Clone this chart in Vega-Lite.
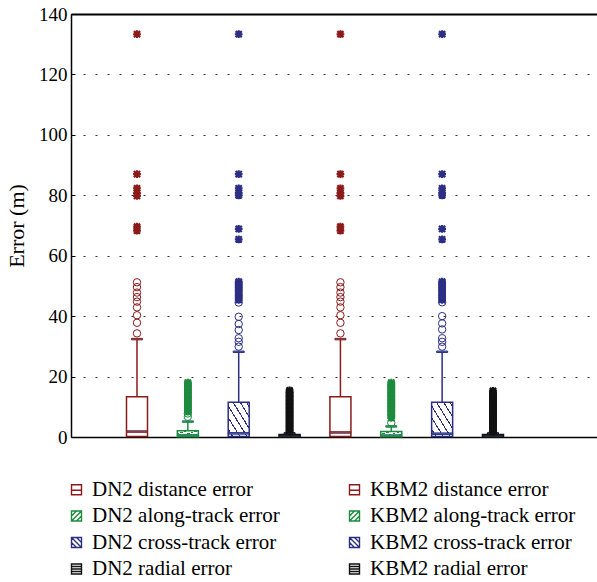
{
  "$schema": "https://vega.github.io/schema/vega-lite/v6.json",
  "width": 526,
  "height": 423,
  "autosize": "none",
  "padding": {"left": 71, "top": 14, "right": 0, "bottom": 145},
  "background": "white",
  "config": {
    "view": {"stroke": null},
    "font": "Liberation Serif",
    "axis": {"labelFont": "Liberation Serif", "titleFont": "Liberation Serif", "domainColor": "black", "domainWidth": 1.5, "domain": true},
    "legend": {"labelFont": "Liberation Serif"}
  },
  "datasets": {
    "box": [
      {"s": "DN2 distance error", "q1": 0.2, "med": 1.8, "q3": 13.3, "hi": 32.4},
      {"s": "DN2 along-track error", "q1": 0.1, "med": 0.6, "q3": 2.1, "hi": 5.1},
      {"s": "DN2 cross-track error", "q1": 0.2, "med": 1.2, "q3": 11.5, "hi": 28.2},
      {"s": "DN2 radial error", "q1": 0.05, "med": 0.3, "q3": 0.8, "hi": 1.2},
      {"s": "KBM2 distance error", "q1": 0.2, "med": 1.5, "q3": 13.3, "hi": 32.4},
      {"s": "KBM2 along-track error", "q1": 0.1, "med": 0.5, "q3": 1.8, "hi": 3.5},
      {"s": "KBM2 cross-track error", "q1": 0.2, "med": 1.1, "q3": 11.5, "hi": 28.2},
      {"s": "KBM2 radial error", "q1": 0.05, "med": 0.3, "q3": 0.8, "hi": 1.2}
    ],
    "out": [
      {"s": "DN2 distance error", "k": "o", "v": 34.3},
      {"s": "DN2 distance error", "k": "o", "v": 37.8},
      {"s": "DN2 distance error", "k": "o", "v": 40.3},
      {"s": "DN2 distance error", "k": "o", "v": 42.9},
      {"s": "DN2 distance error", "k": "o", "v": 44.8},
      {"s": "DN2 distance error", "k": "o", "v": 46.3},
      {"s": "DN2 distance error", "k": "o", "v": 47.8},
      {"s": "DN2 distance error", "k": "o", "v": 49.6},
      {"s": "DN2 distance error", "k": "o", "v": 51.2},
      {"s": "DN2 distance error", "k": "x", "v": 68.3},
      {"s": "DN2 distance error", "k": "x", "v": 69.6},
      {"s": "DN2 distance error", "k": "x", "v": 79.8},
      {"s": "DN2 distance error", "k": "x", "v": 80.7},
      {"s": "DN2 distance error", "k": "x", "v": 82.3},
      {"s": "DN2 distance error", "k": "x", "v": 87.0},
      {"s": "DN2 distance error", "k": "x", "v": 133.3},
      {"s": "KBM2 distance error", "k": "o", "v": 34.3},
      {"s": "KBM2 distance error", "k": "o", "v": 37.8},
      {"s": "KBM2 distance error", "k": "o", "v": 40.3},
      {"s": "KBM2 distance error", "k": "o", "v": 42.9},
      {"s": "KBM2 distance error", "k": "o", "v": 44.8},
      {"s": "KBM2 distance error", "k": "o", "v": 46.3},
      {"s": "KBM2 distance error", "k": "o", "v": 47.8},
      {"s": "KBM2 distance error", "k": "o", "v": 49.6},
      {"s": "KBM2 distance error", "k": "o", "v": 51.2},
      {"s": "KBM2 distance error", "k": "x", "v": 68.3},
      {"s": "KBM2 distance error", "k": "x", "v": 69.6},
      {"s": "KBM2 distance error", "k": "x", "v": 79.8},
      {"s": "KBM2 distance error", "k": "x", "v": 80.7},
      {"s": "KBM2 distance error", "k": "x", "v": 82.3},
      {"s": "KBM2 distance error", "k": "x", "v": 87.0},
      {"s": "KBM2 distance error", "k": "x", "v": 133.3},
      {"s": "DN2 along-track error", "k": "o", "v": 6.7},
      {"s": "DN2 along-track error", "k": "o", "v": 7.8},
      {"s": "DN2 along-track error", "k": "x", "v": 8.4},
      {"s": "DN2 along-track error", "k": "x", "v": 8.9},
      {"s": "DN2 along-track error", "k": "x", "v": 9.3},
      {"s": "DN2 along-track error", "k": "x", "v": 9.8},
      {"s": "DN2 along-track error", "k": "x", "v": 10.2},
      {"s": "DN2 along-track error", "k": "x", "v": 10.7},
      {"s": "DN2 along-track error", "k": "x", "v": 11.1},
      {"s": "DN2 along-track error", "k": "x", "v": 11.5},
      {"s": "DN2 along-track error", "k": "x", "v": 12.0},
      {"s": "DN2 along-track error", "k": "x", "v": 12.4},
      {"s": "DN2 along-track error", "k": "x", "v": 12.9},
      {"s": "DN2 along-track error", "k": "x", "v": 13.3},
      {"s": "DN2 along-track error", "k": "x", "v": 13.7},
      {"s": "DN2 along-track error", "k": "x", "v": 14.2},
      {"s": "DN2 along-track error", "k": "x", "v": 14.6},
      {"s": "DN2 along-track error", "k": "x", "v": 15.0},
      {"s": "DN2 along-track error", "k": "x", "v": 15.5},
      {"s": "DN2 along-track error", "k": "x", "v": 15.9},
      {"s": "DN2 along-track error", "k": "x", "v": 16.4},
      {"s": "DN2 along-track error", "k": "x", "v": 16.8},
      {"s": "DN2 along-track error", "k": "x", "v": 17.2},
      {"s": "DN2 along-track error", "k": "x", "v": 17.7},
      {"s": "DN2 along-track error", "k": "x", "v": 18.0},
      {"s": "KBM2 along-track error", "k": "o", "v": 4.7},
      {"s": "KBM2 along-track error", "k": "x", "v": 6.3},
      {"s": "KBM2 along-track error", "k": "x", "v": 6.8},
      {"s": "KBM2 along-track error", "k": "x", "v": 7.2},
      {"s": "KBM2 along-track error", "k": "x", "v": 7.7},
      {"s": "KBM2 along-track error", "k": "x", "v": 8.2},
      {"s": "KBM2 along-track error", "k": "x", "v": 8.6},
      {"s": "KBM2 along-track error", "k": "x", "v": 9.1},
      {"s": "KBM2 along-track error", "k": "x", "v": 9.5},
      {"s": "KBM2 along-track error", "k": "x", "v": 10.0},
      {"s": "KBM2 along-track error", "k": "x", "v": 10.4},
      {"s": "KBM2 along-track error", "k": "x", "v": 10.9},
      {"s": "KBM2 along-track error", "k": "x", "v": 11.3},
      {"s": "KBM2 along-track error", "k": "x", "v": 11.8},
      {"s": "KBM2 along-track error", "k": "x", "v": 12.2},
      {"s": "KBM2 along-track error", "k": "x", "v": 12.7},
      {"s": "KBM2 along-track error", "k": "x", "v": 13.1},
      {"s": "KBM2 along-track error", "k": "x", "v": 13.6},
      {"s": "KBM2 along-track error", "k": "x", "v": 14.0},
      {"s": "KBM2 along-track error", "k": "x", "v": 14.5},
      {"s": "KBM2 along-track error", "k": "x", "v": 14.9},
      {"s": "KBM2 along-track error", "k": "x", "v": 15.4},
      {"s": "KBM2 along-track error", "k": "x", "v": 15.8},
      {"s": "KBM2 along-track error", "k": "x", "v": 16.3},
      {"s": "KBM2 along-track error", "k": "x", "v": 16.7},
      {"s": "KBM2 along-track error", "k": "x", "v": 17.2},
      {"s": "KBM2 along-track error", "k": "x", "v": 17.6},
      {"s": "KBM2 along-track error", "k": "x", "v": 18.0},
      {"s": "DN2 cross-track error", "k": "o", "v": 29.9},
      {"s": "DN2 cross-track error", "k": "o", "v": 31.5},
      {"s": "DN2 cross-track error", "k": "o", "v": 32.7},
      {"s": "DN2 cross-track error", "k": "o", "v": 35.4},
      {"s": "DN2 cross-track error", "k": "o", "v": 37.4},
      {"s": "DN2 cross-track error", "k": "o", "v": 39.8},
      {"s": "DN2 cross-track error", "k": "o", "v": 44.5},
      {"s": "DN2 cross-track error", "k": "x", "v": 45.4},
      {"s": "DN2 cross-track error", "k": "x", "v": 46.0},
      {"s": "DN2 cross-track error", "k": "x", "v": 46.6},
      {"s": "DN2 cross-track error", "k": "x", "v": 47.2},
      {"s": "DN2 cross-track error", "k": "x", "v": 47.9},
      {"s": "DN2 cross-track error", "k": "x", "v": 48.5},
      {"s": "DN2 cross-track error", "k": "x", "v": 49.1},
      {"s": "DN2 cross-track error", "k": "x", "v": 49.7},
      {"s": "DN2 cross-track error", "k": "x", "v": 50.3},
      {"s": "DN2 cross-track error", "k": "x", "v": 50.9},
      {"s": "DN2 cross-track error", "k": "x", "v": 51.4},
      {"s": "DN2 cross-track error", "k": "x", "v": 65.4},
      {"s": "DN2 cross-track error", "k": "x", "v": 68.9},
      {"s": "DN2 cross-track error", "k": "x", "v": 80.0},
      {"s": "DN2 cross-track error", "k": "x", "v": 80.8},
      {"s": "DN2 cross-track error", "k": "x", "v": 82.3},
      {"s": "DN2 cross-track error", "k": "x", "v": 87.0},
      {"s": "DN2 cross-track error", "k": "x", "v": 133.3},
      {"s": "KBM2 cross-track error", "k": "o", "v": 29.9},
      {"s": "KBM2 cross-track error", "k": "o", "v": 31.5},
      {"s": "KBM2 cross-track error", "k": "o", "v": 32.7},
      {"s": "KBM2 cross-track error", "k": "o", "v": 35.6},
      {"s": "KBM2 cross-track error", "k": "o", "v": 37.6},
      {"s": "KBM2 cross-track error", "k": "o", "v": 40.0},
      {"s": "KBM2 cross-track error", "k": "o", "v": 44.6},
      {"s": "KBM2 cross-track error", "k": "x", "v": 45.4},
      {"s": "KBM2 cross-track error", "k": "x", "v": 46.0},
      {"s": "KBM2 cross-track error", "k": "x", "v": 46.6},
      {"s": "KBM2 cross-track error", "k": "x", "v": 47.2},
      {"s": "KBM2 cross-track error", "k": "x", "v": 47.9},
      {"s": "KBM2 cross-track error", "k": "x", "v": 48.5},
      {"s": "KBM2 cross-track error", "k": "x", "v": 49.1},
      {"s": "KBM2 cross-track error", "k": "x", "v": 49.7},
      {"s": "KBM2 cross-track error", "k": "x", "v": 50.3},
      {"s": "KBM2 cross-track error", "k": "x", "v": 50.9},
      {"s": "KBM2 cross-track error", "k": "x", "v": 51.4},
      {"s": "KBM2 cross-track error", "k": "x", "v": 65.4},
      {"s": "KBM2 cross-track error", "k": "x", "v": 68.9},
      {"s": "KBM2 cross-track error", "k": "x", "v": 80.0},
      {"s": "KBM2 cross-track error", "k": "x", "v": 80.8},
      {"s": "KBM2 cross-track error", "k": "x", "v": 82.3},
      {"s": "KBM2 cross-track error", "k": "x", "v": 87.0},
      {"s": "KBM2 cross-track error", "k": "x", "v": 133.3},
      {"s": "DN2 radial error", "k": "o", "v": 1.8},
      {"s": "DN2 radial error", "k": "x", "v": 2.3},
      {"s": "DN2 radial error", "k": "x", "v": 2.8},
      {"s": "DN2 radial error", "k": "x", "v": 3.2},
      {"s": "DN2 radial error", "k": "x", "v": 3.6},
      {"s": "DN2 radial error", "k": "x", "v": 4.1},
      {"s": "DN2 radial error", "k": "x", "v": 4.5},
      {"s": "DN2 radial error", "k": "x", "v": 4.9},
      {"s": "DN2 radial error", "k": "x", "v": 5.4},
      {"s": "DN2 radial error", "k": "x", "v": 5.8},
      {"s": "DN2 radial error", "k": "x", "v": 6.2},
      {"s": "DN2 radial error", "k": "x", "v": 6.7},
      {"s": "DN2 radial error", "k": "x", "v": 7.1},
      {"s": "DN2 radial error", "k": "x", "v": 7.5},
      {"s": "DN2 radial error", "k": "x", "v": 8.0},
      {"s": "DN2 radial error", "k": "x", "v": 8.4},
      {"s": "DN2 radial error", "k": "x", "v": 8.8},
      {"s": "DN2 radial error", "k": "x", "v": 9.3},
      {"s": "DN2 radial error", "k": "x", "v": 9.7},
      {"s": "DN2 radial error", "k": "x", "v": 10.1},
      {"s": "DN2 radial error", "k": "x", "v": 10.6},
      {"s": "DN2 radial error", "k": "x", "v": 11.0},
      {"s": "DN2 radial error", "k": "x", "v": 11.4},
      {"s": "DN2 radial error", "k": "x", "v": 11.9},
      {"s": "DN2 radial error", "k": "x", "v": 12.3},
      {"s": "DN2 radial error", "k": "x", "v": 12.7},
      {"s": "DN2 radial error", "k": "x", "v": 13.2},
      {"s": "DN2 radial error", "k": "x", "v": 13.6},
      {"s": "DN2 radial error", "k": "x", "v": 14.0},
      {"s": "DN2 radial error", "k": "x", "v": 14.5},
      {"s": "DN2 radial error", "k": "x", "v": 14.9},
      {"s": "DN2 radial error", "k": "x", "v": 15.4},
      {"s": "KBM2 radial error", "k": "o", "v": 1.7},
      {"s": "KBM2 radial error", "k": "x", "v": 2.2},
      {"s": "KBM2 radial error", "k": "x", "v": 2.7},
      {"s": "KBM2 radial error", "k": "x", "v": 3.1},
      {"s": "KBM2 radial error", "k": "x", "v": 3.5},
      {"s": "KBM2 radial error", "k": "x", "v": 4.0},
      {"s": "KBM2 radial error", "k": "x", "v": 4.4},
      {"s": "KBM2 radial error", "k": "x", "v": 4.8},
      {"s": "KBM2 radial error", "k": "x", "v": 5.3},
      {"s": "KBM2 radial error", "k": "x", "v": 5.7},
      {"s": "KBM2 radial error", "k": "x", "v": 6.1},
      {"s": "KBM2 radial error", "k": "x", "v": 6.6},
      {"s": "KBM2 radial error", "k": "x", "v": 7.0},
      {"s": "KBM2 radial error", "k": "x", "v": 7.4},
      {"s": "KBM2 radial error", "k": "x", "v": 7.9},
      {"s": "KBM2 radial error", "k": "x", "v": 8.3},
      {"s": "KBM2 radial error", "k": "x", "v": 8.7},
      {"s": "KBM2 radial error", "k": "x", "v": 9.2},
      {"s": "KBM2 radial error", "k": "x", "v": 9.6},
      {"s": "KBM2 radial error", "k": "x", "v": 10.0},
      {"s": "KBM2 radial error", "k": "x", "v": 10.5},
      {"s": "KBM2 radial error", "k": "x", "v": 10.9},
      {"s": "KBM2 radial error", "k": "x", "v": 11.3},
      {"s": "KBM2 radial error", "k": "x", "v": 11.8},
      {"s": "KBM2 radial error", "k": "x", "v": 12.2},
      {"s": "KBM2 radial error", "k": "x", "v": 12.6},
      {"s": "KBM2 radial error", "k": "x", "v": 13.1},
      {"s": "KBM2 radial error", "k": "x", "v": 13.5},
      {"s": "KBM2 radial error", "k": "x", "v": 13.9},
      {"s": "KBM2 radial error", "k": "x", "v": 14.4},
      {"s": "KBM2 radial error", "k": "x", "v": 14.8},
      {"s": "KBM2 radial error", "k": "x", "v": 15.3}
    ]
  },
  "encoding": {
    "x": {
      "field": "s", "type": "nominal", "axis": null,
      "scale": {"type": "point", "padding": 0.6714, "align": 0.2217,
        "domain": ["left gap", "DN2 distance error", "DN2 along-track error", "DN2 cross-track error", "DN2 radial error", "KBM2 distance error", "KBM2 along-track error", "KBM2 cross-track error", "KBM2 radial error", "right gap"]}
    },
    "y": {"type": "quantitative", "scale": {"domain": [0, 140], "nice": false},
      "axis": {"title": "Error (m)", "values": [0, 20, 40, 60, 80, 100, 120, 140], "grid": true, "gridDash": [2, 10], "gridColor": "#333", "gridWidth": 1.2,
        "domain": true, "domainColor": "black", "domainWidth": 1.5, "tickColor": "black", "tickSize": -4, "labelFontSize": 19, "labelColor": "black", "labelPadding": 8,
        "titleFontSize": 22, "titleFontWeight": "normal", "titleColor": "black", "titlePadding": 10}}
  },
  "layer": [
    {
      "data": {"name": "box"},
      "mark": {"type": "rule", "strokeWidth": 1.5},
      "encoding": {
        "x": {"field": "s", "type": "nominal", "axis": {"orient": "bottom", "labels": false, "ticks": false, "title": null, "domain": true, "domainColor": "black", "domainWidth": 1.5, "grid": false}},
        "y": {"field": "q3", "type": "quantitative"},
        "y2": {"field": "hi"},
        "stroke": {"field": "s", "type": "nominal",
          "scale": {"domain": ["DN2 distance error", "DN2 along-track error", "DN2 cross-track error", "DN2 radial error", "KBM2 distance error", "KBM2 along-track error", "KBM2 cross-track error", "KBM2 radial error"],
            "range": ["#8b1a1a", "#1d8b3f", "#2c2e83", "#111111", "#8b1a1a", "#1d8b3f", "#2c2e83", "#111111"]},
          "legend": {"orient": "none", "legendX": -5, "legendY": 465, "columns": 2, "title": null, "padding": 0,
            "symbolType": "M-1,-1H1V1H-1Z M-1,0.1H1", "symbolSize": 100, "symbolStrokeWidth": 1.4,
            "labelFontSize": 21, "labelColor": "black", "labelOffset": 5, "rowPadding": 4.5, "columnPadding": 64, "labelLimit": 300,
            "encode": {"symbols": {"update": {
              "fill": {"value": "white"}, "fillOpacity": {"value": 1}, "opacity": {"value": 1},
              "shape": {"signal": "indexof(datum.value, 'along') >= 0 ? 'M-1,-1H1V1H-1Z M-1,1L1,-1 M-1,0L0,-1 M0,1L1,0' : indexof(datum.value, 'cross') >= 0 ? 'M-1,-1H1V1H-1Z M-1,-1L1,1 M-1,0L0,1 M0,-1L1,0' : indexof(datum.value, 'radial') >= 0 ? 'M-1,-1H1V1H-1Z M-1,-0.5H1 M-1,0H1 M-1,0.5H1' : 'M-1,-1H1V1H-1Z M-1,0.1H1'"}
            }}}}}
      }
    },
    {
      "data": {"name": "box"},
      "mark": {"type": "tick", "size": 11, "thickness": 1.5, "opacity": 1},
      "encoding": {"y": {"field": "hi", "type": "quantitative"}, "stroke": {"field": "s", "type": "nominal"}}
    },
    {
      "data": {"name": "box"},
      "transform": [{"filter": "indexof(datum.s, 'cross') < 0 && indexof(datum.s, 'along') < 0"}],
      "mark": {"type": "bar", "width": 21, "fill": "white", "strokeWidth": 1.5},
      "encoding": {"y": {"field": "q1", "type": "quantitative"}, "y2": {"field": "q3"}, "stroke": {"field": "s", "type": "nominal"}}
    },
    {
      "data": {"name": "box"},
      "transform": [{"filter": "indexof(datum.s, 'along') >= 0"}],
      "mark": {"type": "bar", "width": 21, "strokeWidth": 1.5,
        "fill": {"gradient": "linear", "x1": 0, "y1": 0, "x2": 1, "y2": 1,
          "stops": [
            {"offset": 0, "color": "white"},
            {"offset": 0.22, "color": "white"}, {"offset": 0.22, "color": "#1d8b3f"}, {"offset": 0.28, "color": "#1d8b3f"}, {"offset": 0.28, "color": "white"},
            {"offset": 0.47, "color": "white"}, {"offset": 0.47, "color": "#1d8b3f"}, {"offset": 0.53, "color": "#1d8b3f"}, {"offset": 0.53, "color": "white"},
            {"offset": 0.72, "color": "white"}, {"offset": 0.72, "color": "#1d8b3f"}, {"offset": 0.78, "color": "#1d8b3f"}, {"offset": 0.78, "color": "white"},
            {"offset": 1, "color": "white"}
          ]}},
      "encoding": {"y": {"field": "q1", "type": "quantitative"}, "y2": {"field": "q3"}, "stroke": {"field": "s", "type": "nominal"}}
    },
    {
      "data": {"name": "box"},
      "transform": [{"filter": "indexof(datum.s, 'cross') >= 0"}],
      "mark": {"type": "bar", "width": 21, "strokeWidth": 1.5,
        "fill": {"gradient": "linear", "x1": 0, "y1": 1, "x2": 1, "y2": 0,
          "stops": [
            {"offset": 0, "color": "white"},
            {"offset": 0.09, "color": "white"}, {"offset": 0.09, "color": "#2c2e83"}, {"offset": 0.12, "color": "#2c2e83"}, {"offset": 0.12, "color": "white"},
            {"offset": 0.26, "color": "white"}, {"offset": 0.26, "color": "#2c2e83"}, {"offset": 0.29, "color": "#2c2e83"}, {"offset": 0.29, "color": "white"},
            {"offset": 0.43, "color": "white"}, {"offset": 0.43, "color": "#2c2e83"}, {"offset": 0.46, "color": "#2c2e83"}, {"offset": 0.46, "color": "white"},
            {"offset": 0.6, "color": "white"}, {"offset": 0.6, "color": "#2c2e83"}, {"offset": 0.63, "color": "#2c2e83"}, {"offset": 0.63, "color": "white"},
            {"offset": 0.77, "color": "white"}, {"offset": 0.77, "color": "#2c2e83"}, {"offset": 0.8, "color": "#2c2e83"}, {"offset": 0.8, "color": "white"},
            {"offset": 0.92, "color": "white"}, {"offset": 0.92, "color": "#2c2e83"}, {"offset": 0.95, "color": "#2c2e83"}, {"offset": 0.95, "color": "white"},
            {"offset": 1, "color": "white"}
          ]}},
      "encoding": {"y": {"field": "q1", "type": "quantitative"}, "y2": {"field": "q3"}, "stroke": {"field": "s", "type": "nominal"}}
    },
    {
      "data": {"name": "box"},
      "mark": {"type": "tick", "size": 21, "thickness": 1.5, "opacity": 1},
      "encoding": {"y": {"field": "med", "type": "quantitative"}, "stroke": {"field": "s", "type": "nominal"}}
    },
    {
      "data": {"name": "out"},
      "transform": [{"filter": "datum.k == 'o'"}],
      "mark": {"type": "point", "shape": "circle", "filled": false, "size": 55, "strokeWidth": 1, "opacity": 1},
      "encoding": {"y": {"field": "v", "type": "quantitative"}, "stroke": {"field": "s", "type": "nominal"}}
    },
    {
      "data": {"name": "out"},
      "transform": [{"filter": "datum.k == 'x'"}],
      "mark": {"type": "point", "shape": "M-1,0L1,0M0,-1L0,1M-0.8,-0.8L0.8,0.8M-0.8,0.8L0.8,-0.8", "filled": false, "size": 60, "strokeWidth": 2.2, "opacity": 1},
      "encoding": {"y": {"field": "v", "type": "quantitative"}, "stroke": {"field": "s", "type": "nominal"}}
    },
    {
      "data": {"name": "box"},
      "mark": {"type": "rule", "opacity": 0},
      "encoding": {
        "x": {"field": "s", "type": "nominal", "axis": {"orient": "top", "labels": false, "ticks": false, "title": null, "domain": true, "domainColor": "black", "domainWidth": 2, "grid": false}},
        "y": {"field": "q3", "type": "quantitative"}
      }
    }
  ],
  "resolve": {"axis": {"x": "independent"}}
}
